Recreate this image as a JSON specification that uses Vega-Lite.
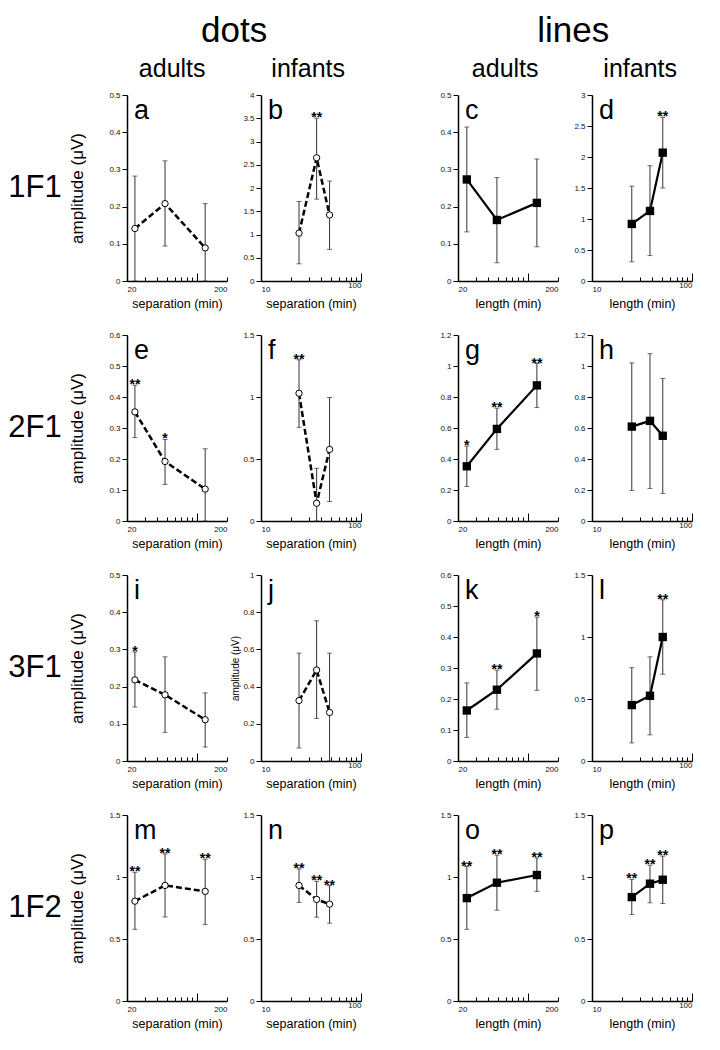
{
  "$schema": "https://vega.github.io/schema/vega-lite/v6.json",
  "background": "white",
  "padding": {"left": 5, "top": 14, "right": 5, "bottom": 5},
  "config": {
    "font": "Liberation Sans",
    "view": {"stroke": null},
    "axis": {"grid": false, "labelOverlap": false, "domainColor": "black", "domainWidth": 1.5, "tickColor": "black", "tickWidth": 1, "labelColor": "#111", "labelFontSize": 8, "labelFont": "Liberation Sans", "titleFont": "Liberation Sans", "titleColor": "black", "titleFontWeight": "normal", "titleFontSize": 12.5},
    "axisY": {"tickSize": 5, "labelPadding": 2, "titlePadding": 22, "titleFontSize": 17},
    "title": {"fontWeight": "normal", "color": "black"}
  },
  "datasets": {
    "rows": [{"row": "1F1"}, {"row": "2F1"}, {"row": "3F1"}, {"row": "1F2"}],
    "amp": [
      {"panel": "a", "x": 24, "amp": 0.141, "lo": 0, "hi": 0.282, "sig": ""},
      {"panel": "a", "x": 48, "amp": 0.208, "lo": 0.094, "hi": 0.323, "sig": ""},
      {"panel": "a", "x": 121, "amp": 0.089, "lo": 0, "hi": 0.208, "sig": ""},
      {"panel": "b", "x": 24, "amp": 1.03, "lo": 0.37, "hi": 1.71, "sig": ""},
      {"panel": "b", "x": 36, "amp": 2.65, "lo": 1.76, "hi": 3.5, "sig": "**"},
      {"panel": "b", "x": 48.5, "amp": 1.42, "lo": 0.68, "hi": 2.15, "sig": ""},
      {"panel": "c", "x": 24.5, "amp": 0.273, "lo": 0.132, "hi": 0.414, "sig": ""},
      {"panel": "c", "x": 49, "amp": 0.164, "lo": 0.049, "hi": 0.278, "sig": ""},
      {"panel": "c", "x": 123, "amp": 0.21, "lo": 0.092, "hi": 0.328, "sig": ""},
      {"panel": "d", "x": 25, "amp": 0.92, "lo": 0.31, "hi": 1.53, "sig": ""},
      {"panel": "d", "x": 38, "amp": 1.13, "lo": 0.41, "hi": 1.86, "sig": ""},
      {"panel": "d", "x": 51, "amp": 2.07, "lo": 1.5, "hi": 2.64, "sig": "**"},
      {"panel": "e", "x": 24, "amp": 0.352, "lo": 0.269, "hi": 0.438, "sig": "**"},
      {"panel": "e", "x": 48, "amp": 0.192, "lo": 0.118, "hi": 0.263, "sig": "*"},
      {"panel": "e", "x": 121, "amp": 0.103, "lo": 0, "hi": 0.233, "sig": ""},
      {"panel": "f", "x": 24, "amp": 1.03, "lo": 0.755, "hi": 1.3, "sig": "**"},
      {"panel": "f", "x": 36, "amp": 0.143, "lo": 0, "hi": 0.425, "sig": ""},
      {"panel": "f", "x": 48.5, "amp": 0.577, "lo": 0.157, "hi": 0.996, "sig": ""},
      {"panel": "g", "x": 24.5, "amp": 0.353, "lo": 0.223, "hi": 0.483, "sig": "*"},
      {"panel": "g", "x": 49, "amp": 0.594, "lo": 0.462, "hi": 0.728, "sig": "**"},
      {"panel": "g", "x": 123, "amp": 0.875, "lo": 0.732, "hi": 1.016, "sig": "**"},
      {"panel": "h", "x": 25, "amp": 0.609, "lo": 0.197, "hi": 1.02, "sig": ""},
      {"panel": "h", "x": 38, "amp": 0.646, "lo": 0.21, "hi": 1.08, "sig": ""},
      {"panel": "h", "x": 51, "amp": 0.55, "lo": 0.178, "hi": 0.92, "sig": ""},
      {"panel": "i", "x": 24, "amp": 0.218, "lo": 0.145, "hi": 0.293, "sig": "*"},
      {"panel": "i", "x": 48, "amp": 0.178, "lo": 0.077, "hi": 0.28, "sig": ""},
      {"panel": "i", "x": 121, "amp": 0.111, "lo": 0.0375, "hi": 0.183, "sig": ""},
      {"panel": "j", "x": 24, "amp": 0.325, "lo": 0.07, "hi": 0.58, "sig": ""},
      {"panel": "j", "x": 36, "amp": 0.489, "lo": 0.229, "hi": 0.754, "sig": ""},
      {"panel": "j", "x": 48.5, "amp": 0.261, "lo": 0, "hi": 0.58, "sig": ""},
      {"panel": "k", "x": 24.5, "amp": 0.163, "lo": 0.076, "hi": 0.252, "sig": ""},
      {"panel": "k", "x": 49, "amp": 0.23, "lo": 0.167, "hi": 0.293, "sig": "**"},
      {"panel": "k", "x": 123, "amp": 0.347, "lo": 0.228, "hi": 0.464, "sig": "*"},
      {"panel": "l", "x": 25, "amp": 0.451, "lo": 0.146, "hi": 0.753, "sig": ""},
      {"panel": "l", "x": 38, "amp": 0.526, "lo": 0.211, "hi": 0.84, "sig": ""},
      {"panel": "l", "x": 51, "amp": 1.0, "lo": 0.7, "hi": 1.3, "sig": "**"},
      {"panel": "m", "x": 24, "amp": 0.805, "lo": 0.578, "hi": 1.038, "sig": "**"},
      {"panel": "m", "x": 48, "amp": 0.932, "lo": 0.678, "hi": 1.186, "sig": "**"},
      {"panel": "m", "x": 121, "amp": 0.884, "lo": 0.616, "hi": 1.143, "sig": "**"},
      {"panel": "n", "x": 24, "amp": 0.932, "lo": 0.795, "hi": 1.065, "sig": "**"},
      {"panel": "n", "x": 36, "amp": 0.819, "lo": 0.676, "hi": 0.965, "sig": "**"},
      {"panel": "n", "x": 48.5, "amp": 0.781, "lo": 0.627, "hi": 0.93, "sig": "**"},
      {"panel": "o", "x": 24.5, "amp": 0.83, "lo": 0.578, "hi": 1.084, "sig": "**"},
      {"panel": "o", "x": 49, "amp": 0.954, "lo": 0.732, "hi": 1.176, "sig": "**"},
      {"panel": "o", "x": 123, "amp": 1.016, "lo": 0.884, "hi": 1.154, "sig": "**"},
      {"panel": "p", "x": 25, "amp": 0.838, "lo": 0.697, "hi": 0.981, "sig": "**"},
      {"panel": "p", "x": 38, "amp": 0.946, "lo": 0.792, "hi": 1.095, "sig": "**"},
      {"panel": "p", "x": 51, "amp": 0.978, "lo": 0.786, "hi": 1.168, "sig": "**"}
    ]
  },
  "spacing": 77,
  "hconcat": [
    {
      "spacing": 3,
      "hconcat": [
        {
          "title": {"text": ".", "fontSize": 35, "color": "transparent", "anchor": "middle", "offset": 8},
          "hconcat": [
            {
              "title": {"text": ".", "fontSize": 25, "color": "transparent", "anchor": "middle", "offset": 9},
              "spacing": 54,
              "bounds": "flush",
              "vconcat": [
                {"width": 60, "height": 186, "data": {"name": "rows"}, "transform": [{"filter": "datum.row == '1F1'"}], "mark": {"type": "text", "fontSize": 31, "color": "black"}, "encoding": {"text": {"field": "row"}}},
                {"width": 60, "height": 186, "data": {"name": "rows"}, "transform": [{"filter": "datum.row == '2F1'"}], "mark": {"type": "text", "fontSize": 31, "color": "black"}, "encoding": {"text": {"field": "row"}}},
                {"width": 60, "height": 186, "data": {"name": "rows"}, "transform": [{"filter": "datum.row == '3F1'"}], "mark": {"type": "text", "fontSize": 31, "color": "black"}, "encoding": {"text": {"field": "row"}}},
                {"width": 60, "height": 186, "data": {"name": "rows"}, "transform": [{"filter": "datum.row == '1F2'"}], "mark": {"type": "text", "fontSize": 31, "color": "black"}, "encoding": {"text": {"field": "row"}}}
              ]
            }
          ]
        },
        {
          "title": {"text": "dots", "fontSize": 35, "anchor": "middle", "dx": 19, "offset": 8},
          "spacing": 2,
          "hconcat": [
            {
              "title": {"text": "adults", "fontSize": 25, "anchor": "middle", "dx": 24, "offset": 9},
              "spacing": 54,
              "bounds": "flush",
              "vconcat": [
                {
                  "width": 100, "height": 186,
                  "title": {"text": "a", "anchor": "start", "frame": "group", "offset": -34, "dx": 7, "fontSize": 27},
                  "data": {"name": "amp"}, "transform": [{"filter": "datum.panel == 'a'"}],
                  "encoding": {"x": {"field": "x", "type": "quantitative", "title": "separation (min)", "scale": {"type": "log", "domain": [20, 200]}, "axis": {"values": [20, 30, 40, 50, 60, 70, 80, 90, 100, 200], "tickCount": 30, "format": "d", "labelExpr": "datum.value == 20 || datum.value == 200 ? datum.label : ''", "tickSize": {"condition": {"test": "datum.value == 100", "value": -8}, "value": -4}, "labelPadding": 8, "titlePadding": 4}}},
                  "layer": [
                    {"mark": {"type": "line", "color": "black", "strokeWidth": 2.5, "strokeDash": [6, 3]}, "encoding": {"y": {"field": "amp", "type": "quantitative", "title": "amplitude (μV)", "scale": {"domain": [0, 0.5], "nice": false}, "axis": {"values": [0, 0.1, 0.2, 0.3, 0.4, 0.5], "tickCount": 30, "format": "~g"}}}},
                    {"mark": {"type": "errorbar", "color": "#333", "ticks": {"size": 5}}, "encoding": {"y": {"field": "lo", "type": "quantitative", "title": "amplitude (μV)"}, "y2": {"field": "hi"}}},
                    {"mark": {"type": "point", "shape": "circle", "filled": true, "fill": "white", "stroke": "black", "strokeWidth": 1, "size": 40, "opacity": 1}, "encoding": {"y": {"field": "amp", "type": "quantitative", "title": "amplitude (μV)"}}},
                    {"mark": {"type": "text", "fontSize": 14, "fontWeight": "bold", "baseline": "alphabetic", "dy": 4, "color": "black"}, "encoding": {"y": {"field": "hi", "type": "quantitative", "title": "amplitude (μV)"}, "text": {"field": "sig"}}}
                  ]
                },
                {
                  "width": 100, "height": 186,
                  "title": {"text": "e", "anchor": "start", "frame": "group", "offset": -34, "dx": 7, "fontSize": 27},
                  "data": {"name": "amp"}, "transform": [{"filter": "datum.panel == 'e'"}],
                  "encoding": {"x": {"field": "x", "type": "quantitative", "title": "separation (min)", "scale": {"type": "log", "domain": [20, 200]}, "axis": {"values": [20, 30, 40, 50, 60, 70, 80, 90, 100, 200], "tickCount": 30, "format": "d", "labelExpr": "datum.value == 20 || datum.value == 200 ? datum.label : ''", "tickSize": {"condition": {"test": "datum.value == 100", "value": -8}, "value": -4}, "labelPadding": 8, "titlePadding": 4}}},
                  "layer": [
                    {"mark": {"type": "line", "color": "black", "strokeWidth": 2.5, "strokeDash": [6, 3]}, "encoding": {"y": {"field": "amp", "type": "quantitative", "title": "amplitude (μV)", "scale": {"domain": [0, 0.6], "nice": false}, "axis": {"values": [0, 0.1, 0.2, 0.3, 0.4, 0.5, 0.6], "tickCount": 30, "format": "~g"}}}},
                    {"mark": {"type": "errorbar", "color": "#333", "ticks": {"size": 5}}, "encoding": {"y": {"field": "lo", "type": "quantitative", "title": "amplitude (μV)"}, "y2": {"field": "hi"}}},
                    {"mark": {"type": "point", "shape": "circle", "filled": true, "fill": "white", "stroke": "black", "strokeWidth": 1, "size": 40, "opacity": 1}, "encoding": {"y": {"field": "amp", "type": "quantitative", "title": "amplitude (μV)"}}},
                    {"mark": {"type": "text", "fontSize": 14, "fontWeight": "bold", "baseline": "alphabetic", "dy": 4, "color": "black"}, "encoding": {"y": {"field": "hi", "type": "quantitative", "title": "amplitude (μV)"}, "text": {"field": "sig"}}}
                  ]
                },
                {
                  "width": 100, "height": 186,
                  "title": {"text": "i", "anchor": "start", "frame": "group", "offset": -34, "dx": 7, "fontSize": 27},
                  "data": {"name": "amp"}, "transform": [{"filter": "datum.panel == 'i'"}],
                  "encoding": {"x": {"field": "x", "type": "quantitative", "title": "separation (min)", "scale": {"type": "log", "domain": [20, 200]}, "axis": {"values": [20, 30, 40, 50, 60, 70, 80, 90, 100, 200], "tickCount": 30, "format": "d", "labelExpr": "datum.value == 20 || datum.value == 200 ? datum.label : ''", "tickSize": {"condition": {"test": "datum.value == 100", "value": -8}, "value": -4}, "labelPadding": 8, "titlePadding": 4}}},
                  "layer": [
                    {"mark": {"type": "line", "color": "black", "strokeWidth": 2.5, "strokeDash": [6, 3]}, "encoding": {"y": {"field": "amp", "type": "quantitative", "title": "amplitude (μV)", "scale": {"domain": [0, 0.5], "nice": false}, "axis": {"values": [0, 0.1, 0.2, 0.3, 0.4, 0.5], "tickCount": 30, "format": "~g"}}}},
                    {"mark": {"type": "errorbar", "color": "#333", "ticks": {"size": 5}}, "encoding": {"y": {"field": "lo", "type": "quantitative", "title": "amplitude (μV)"}, "y2": {"field": "hi"}}},
                    {"mark": {"type": "point", "shape": "circle", "filled": true, "fill": "white", "stroke": "black", "strokeWidth": 1, "size": 40, "opacity": 1}, "encoding": {"y": {"field": "amp", "type": "quantitative", "title": "amplitude (μV)"}}},
                    {"mark": {"type": "text", "fontSize": 14, "fontWeight": "bold", "baseline": "alphabetic", "dy": 4, "color": "black"}, "encoding": {"y": {"field": "hi", "type": "quantitative", "title": "amplitude (μV)"}, "text": {"field": "sig"}}}
                  ]
                },
                {
                  "width": 100, "height": 186,
                  "title": {"text": "m", "anchor": "start", "frame": "group", "offset": -34, "dx": 7, "fontSize": 27},
                  "data": {"name": "amp"}, "transform": [{"filter": "datum.panel == 'm'"}],
                  "encoding": {"x": {"field": "x", "type": "quantitative", "title": "separation (min)", "scale": {"type": "log", "domain": [20, 200]}, "axis": {"values": [20, 30, 40, 50, 60, 70, 80, 90, 100, 200], "tickCount": 30, "format": "d", "labelExpr": "datum.value == 20 || datum.value == 200 ? datum.label : ''", "tickSize": {"condition": {"test": "datum.value == 100", "value": -8}, "value": -4}, "labelPadding": 8, "titlePadding": 4}}},
                  "layer": [
                    {"mark": {"type": "line", "color": "black", "strokeWidth": 2.5, "strokeDash": [6, 3]}, "encoding": {"y": {"field": "amp", "type": "quantitative", "title": "amplitude (μV)", "scale": {"domain": [0, 1.5], "nice": false}, "axis": {"values": [0, 0.5, 1, 1.5], "tickCount": 30, "format": "~g"}}}},
                    {"mark": {"type": "errorbar", "color": "#333", "ticks": {"size": 5}}, "encoding": {"y": {"field": "lo", "type": "quantitative", "title": "amplitude (μV)"}, "y2": {"field": "hi"}}},
                    {"mark": {"type": "point", "shape": "circle", "filled": true, "fill": "white", "stroke": "black", "strokeWidth": 1, "size": 40, "opacity": 1}, "encoding": {"y": {"field": "amp", "type": "quantitative", "title": "amplitude (μV)"}}},
                    {"mark": {"type": "text", "fontSize": 14, "fontWeight": "bold", "baseline": "alphabetic", "dy": 4, "color": "black"}, "encoding": {"y": {"field": "hi", "type": "quantitative", "title": "amplitude (μV)"}, "text": {"field": "sig"}}}
                  ]
                }
              ]
            },
            {
              "title": {"text": "infants", "fontSize": 25, "anchor": "middle", "dx": 12, "offset": 9},
              "spacing": 54,
              "bounds": "flush",
              "vconcat": [
                {
                  "width": 100, "height": 186,
                  "title": {"text": "b", "anchor": "start", "frame": "group", "offset": -34, "dx": 7, "fontSize": 27},
                  "data": {"name": "amp"}, "transform": [{"filter": "datum.panel == 'b'"}],
                  "encoding": {"x": {"field": "x", "type": "quantitative", "title": "separation (min)", "scale": {"type": "log", "domain": [10, 100]}, "axis": {"values": [10, 20, 30, 40, 50, 60, 70, 80, 90, 100], "tickCount": 30, "format": "d", "labelExpr": "datum.value == 10 || datum.value == 100 ? datum.label : ''", "tickSize": {"condition": {"test": "datum.value == 100", "value": -8}, "value": -4}, "labelPadding": 8, "titlePadding": 4}}},
                  "layer": [
                    {"mark": {"type": "line", "color": "black", "strokeWidth": 2.5, "strokeDash": [6, 3]}, "encoding": {"y": {"field": "amp", "type": "quantitative", "title": null, "scale": {"domain": [0, 4], "nice": false}, "axis": {"values": [0, 0.5, 1, 1.5, 2, 2.5, 3, 3.5, 4], "tickCount": 30, "format": "~g"}}}},
                    {"mark": {"type": "errorbar", "color": "#333", "ticks": {"size": 5}}, "encoding": {"y": {"field": "lo", "type": "quantitative", "title": null}, "y2": {"field": "hi"}}},
                    {"mark": {"type": "point", "shape": "circle", "filled": true, "fill": "white", "stroke": "black", "strokeWidth": 1, "size": 40, "opacity": 1}, "encoding": {"y": {"field": "amp", "type": "quantitative", "title": null}}},
                    {"mark": {"type": "text", "fontSize": 14, "fontWeight": "bold", "baseline": "alphabetic", "dy": 4, "color": "black"}, "encoding": {"y": {"field": "hi", "type": "quantitative", "title": null}, "text": {"field": "sig"}}}
                  ]
                },
                {
                  "width": 100, "height": 186,
                  "title": {"text": "f", "anchor": "start", "frame": "group", "offset": -34, "dx": 7, "fontSize": 27},
                  "data": {"name": "amp"}, "transform": [{"filter": "datum.panel == 'f'"}],
                  "encoding": {"x": {"field": "x", "type": "quantitative", "title": "separation (min)", "scale": {"type": "log", "domain": [10, 100]}, "axis": {"values": [10, 20, 30, 40, 50, 60, 70, 80, 90, 100], "tickCount": 30, "format": "d", "labelExpr": "datum.value == 10 || datum.value == 100 ? datum.label : ''", "tickSize": {"condition": {"test": "datum.value == 100", "value": -8}, "value": -4}, "labelPadding": 8, "titlePadding": 4}}},
                  "layer": [
                    {"mark": {"type": "line", "color": "black", "strokeWidth": 2.5, "strokeDash": [6, 3]}, "encoding": {"y": {"field": "amp", "type": "quantitative", "title": null, "scale": {"domain": [0, 1.5], "nice": false}, "axis": {"values": [0, 0.5, 1, 1.5], "tickCount": 30, "format": "~g"}}}},
                    {"mark": {"type": "errorbar", "color": "#333", "ticks": {"size": 5}}, "encoding": {"y": {"field": "lo", "type": "quantitative", "title": null}, "y2": {"field": "hi"}}},
                    {"mark": {"type": "point", "shape": "circle", "filled": true, "fill": "white", "stroke": "black", "strokeWidth": 1, "size": 40, "opacity": 1}, "encoding": {"y": {"field": "amp", "type": "quantitative", "title": null}}},
                    {"mark": {"type": "text", "fontSize": 14, "fontWeight": "bold", "baseline": "alphabetic", "dy": 4, "color": "black"}, "encoding": {"y": {"field": "hi", "type": "quantitative", "title": null}, "text": {"field": "sig"}}}
                  ]
                },
                {
                  "width": 100, "height": 186,
                  "title": {"text": "j", "anchor": "start", "frame": "group", "offset": -34, "dx": 7, "fontSize": 27},
                  "data": {"name": "amp"}, "transform": [{"filter": "datum.panel == 'j'"}],
                  "encoding": {"x": {"field": "x", "type": "quantitative", "title": "separation (min)", "scale": {"type": "log", "domain": [10, 100]}, "axis": {"values": [10, 20, 30, 40, 50, 60, 70, 80, 90, 100], "tickCount": 30, "format": "d", "labelExpr": "datum.value == 10 || datum.value == 100 ? datum.label : ''", "tickSize": {"condition": {"test": "datum.value == 100", "value": -8}, "value": -4}, "labelPadding": 8, "titlePadding": 4}}},
                  "layer": [
                    {"mark": {"type": "line", "color": "black", "strokeWidth": 2.5, "strokeDash": [6, 3]}, "encoding": {"y": {"field": "amp", "type": "quantitative", "title": "amplitude (μV)", "scale": {"domain": [0, 1], "nice": false}, "axis": {"values": [0, 0.2, 0.4, 0.6, 0.8, 1], "tickCount": 30, "format": "~g", "titleFontSize": 10, "titlePadding": 2}}}},
                    {"mark": {"type": "errorbar", "color": "#333", "ticks": {"size": 5}}, "encoding": {"y": {"field": "lo", "type": "quantitative", "title": "amplitude (μV)"}, "y2": {"field": "hi"}}},
                    {"mark": {"type": "point", "shape": "circle", "filled": true, "fill": "white", "stroke": "black", "strokeWidth": 1, "size": 40, "opacity": 1}, "encoding": {"y": {"field": "amp", "type": "quantitative", "title": "amplitude (μV)"}}},
                    {"mark": {"type": "text", "fontSize": 14, "fontWeight": "bold", "baseline": "alphabetic", "dy": 4, "color": "black"}, "encoding": {"y": {"field": "hi", "type": "quantitative", "title": "amplitude (μV)"}, "text": {"field": "sig"}}}
                  ]
                },
                {
                  "width": 100, "height": 186,
                  "title": {"text": "n", "anchor": "start", "frame": "group", "offset": -34, "dx": 7, "fontSize": 27},
                  "data": {"name": "amp"}, "transform": [{"filter": "datum.panel == 'n'"}],
                  "encoding": {"x": {"field": "x", "type": "quantitative", "title": "separation (min)", "scale": {"type": "log", "domain": [10, 100]}, "axis": {"values": [10, 20, 30, 40, 50, 60, 70, 80, 90, 100], "tickCount": 30, "format": "d", "labelExpr": "datum.value == 10 || datum.value == 100 ? datum.label : ''", "tickSize": {"condition": {"test": "datum.value == 100", "value": -8}, "value": -4}, "labelPadding": 8, "titlePadding": 4}}},
                  "layer": [
                    {"mark": {"type": "line", "color": "black", "strokeWidth": 2.5, "strokeDash": [6, 3]}, "encoding": {"y": {"field": "amp", "type": "quantitative", "title": null, "scale": {"domain": [0, 1.5], "nice": false}, "axis": {"values": [0, 0.5, 1, 1.5], "tickCount": 30, "format": "~g"}}}},
                    {"mark": {"type": "errorbar", "color": "#333", "ticks": {"size": 5}}, "encoding": {"y": {"field": "lo", "type": "quantitative", "title": null}, "y2": {"field": "hi"}}},
                    {"mark": {"type": "point", "shape": "circle", "filled": true, "fill": "white", "stroke": "black", "strokeWidth": 1, "size": 40, "opacity": 1}, "encoding": {"y": {"field": "amp", "type": "quantitative", "title": null}}},
                    {"mark": {"type": "text", "fontSize": 14, "fontWeight": "bold", "baseline": "alphabetic", "dy": 4, "color": "black"}, "encoding": {"y": {"field": "hi", "type": "quantitative", "title": null}, "text": {"field": "sig"}}}
                  ]
                }
              ]
            }
          ]
        }
      ]
    },
    {
      "title": {"text": "lines", "fontSize": 35, "anchor": "middle", "dx": 7, "offset": 8},
      "spacing": 14,
      "hconcat": [
        {
          "title": {"text": "adults", "fontSize": 25, "anchor": "middle", "dx": 6, "offset": 9},
          "spacing": 54,
          "bounds": "flush",
          "vconcat": [
            {
              "width": 100, "height": 186,
              "title": {"text": "c", "anchor": "start", "frame": "group", "offset": -34, "dx": 7, "fontSize": 27},
              "data": {"name": "amp"}, "transform": [{"filter": "datum.panel == 'c'"}],
              "encoding": {"x": {"field": "x", "type": "quantitative", "title": "length (min)", "scale": {"type": "log", "domain": [20, 200]}, "axis": {"values": [20, 30, 40, 50, 60, 70, 80, 90, 100, 200], "tickCount": 30, "format": "d", "labelExpr": "datum.value == 20 || datum.value == 200 ? datum.label : ''", "tickSize": {"condition": {"test": "datum.value == 100", "value": -8}, "value": -4}, "labelPadding": 8, "titlePadding": 4}}},
              "layer": [
                {"mark": {"type": "line", "color": "black", "strokeWidth": 2.2}, "encoding": {"y": {"field": "amp", "type": "quantitative", "title": null, "scale": {"domain": [0, 0.5], "nice": false}, "axis": {"values": [0, 0.1, 0.2, 0.3, 0.4, 0.5], "tickCount": 30, "format": "~g"}}}},
                {"mark": {"type": "errorbar", "color": "#333", "ticks": {"size": 5}}, "encoding": {"y": {"field": "lo", "type": "quantitative", "title": null}, "y2": {"field": "hi"}}},
                {"mark": {"type": "point", "shape": "square", "filled": true, "color": "black", "size": 70, "opacity": 1}, "encoding": {"y": {"field": "amp", "type": "quantitative", "title": null}}},
                {"mark": {"type": "text", "fontSize": 14, "fontWeight": "bold", "baseline": "alphabetic", "dy": 4, "color": "black"}, "encoding": {"y": {"field": "hi", "type": "quantitative", "title": null}, "text": {"field": "sig"}}}
              ]
            },
            {
              "width": 100, "height": 186,
              "title": {"text": "g", "anchor": "start", "frame": "group", "offset": -34, "dx": 7, "fontSize": 27},
              "data": {"name": "amp"}, "transform": [{"filter": "datum.panel == 'g'"}],
              "encoding": {"x": {"field": "x", "type": "quantitative", "title": "length (min)", "scale": {"type": "log", "domain": [20, 200]}, "axis": {"values": [20, 30, 40, 50, 60, 70, 80, 90, 100, 200], "tickCount": 30, "format": "d", "labelExpr": "datum.value == 20 || datum.value == 200 ? datum.label : ''", "tickSize": {"condition": {"test": "datum.value == 100", "value": -8}, "value": -4}, "labelPadding": 8, "titlePadding": 4}}},
              "layer": [
                {"mark": {"type": "line", "color": "black", "strokeWidth": 2.2}, "encoding": {"y": {"field": "amp", "type": "quantitative", "title": null, "scale": {"domain": [0, 1.2], "nice": false}, "axis": {"values": [0, 0.2, 0.4, 0.6, 0.8, 1, 1.2], "tickCount": 30, "format": "~g"}}}},
                {"mark": {"type": "errorbar", "color": "#333", "ticks": {"size": 5}}, "encoding": {"y": {"field": "lo", "type": "quantitative", "title": null}, "y2": {"field": "hi"}}},
                {"mark": {"type": "point", "shape": "square", "filled": true, "color": "black", "size": 70, "opacity": 1}, "encoding": {"y": {"field": "amp", "type": "quantitative", "title": null}}},
                {"mark": {"type": "text", "fontSize": 14, "fontWeight": "bold", "baseline": "alphabetic", "dy": 4, "color": "black"}, "encoding": {"y": {"field": "hi", "type": "quantitative", "title": null}, "text": {"field": "sig"}}}
              ]
            },
            {
              "width": 100, "height": 186,
              "title": {"text": "k", "anchor": "start", "frame": "group", "offset": -34, "dx": 7, "fontSize": 27},
              "data": {"name": "amp"}, "transform": [{"filter": "datum.panel == 'k'"}],
              "encoding": {"x": {"field": "x", "type": "quantitative", "title": "length (min)", "scale": {"type": "log", "domain": [20, 200]}, "axis": {"values": [20, 30, 40, 50, 60, 70, 80, 90, 100, 200], "tickCount": 30, "format": "d", "labelExpr": "datum.value == 20 || datum.value == 200 ? datum.label : ''", "tickSize": {"condition": {"test": "datum.value == 100", "value": -8}, "value": -4}, "labelPadding": 8, "titlePadding": 4}}},
              "layer": [
                {"mark": {"type": "line", "color": "black", "strokeWidth": 2.2}, "encoding": {"y": {"field": "amp", "type": "quantitative", "title": null, "scale": {"domain": [0, 0.6], "nice": false}, "axis": {"values": [0, 0.1, 0.2, 0.3, 0.4, 0.5, 0.6], "tickCount": 30, "format": "~g"}}}},
                {"mark": {"type": "errorbar", "color": "#333", "ticks": {"size": 5}}, "encoding": {"y": {"field": "lo", "type": "quantitative", "title": null}, "y2": {"field": "hi"}}},
                {"mark": {"type": "point", "shape": "square", "filled": true, "color": "black", "size": 70, "opacity": 1}, "encoding": {"y": {"field": "amp", "type": "quantitative", "title": null}}},
                {"mark": {"type": "text", "fontSize": 14, "fontWeight": "bold", "baseline": "alphabetic", "dy": 4, "color": "black"}, "encoding": {"y": {"field": "hi", "type": "quantitative", "title": null}, "text": {"field": "sig"}}}
              ]
            },
            {
              "width": 100, "height": 186,
              "title": {"text": "o", "anchor": "start", "frame": "group", "offset": -34, "dx": 7, "fontSize": 27},
              "data": {"name": "amp"}, "transform": [{"filter": "datum.panel == 'o'"}],
              "encoding": {"x": {"field": "x", "type": "quantitative", "title": "length (min)", "scale": {"type": "log", "domain": [20, 200]}, "axis": {"values": [20, 30, 40, 50, 60, 70, 80, 90, 100, 200], "tickCount": 30, "format": "d", "labelExpr": "datum.value == 20 || datum.value == 200 ? datum.label : ''", "tickSize": {"condition": {"test": "datum.value == 100", "value": -8}, "value": -4}, "labelPadding": 8, "titlePadding": 4}}},
              "layer": [
                {"mark": {"type": "line", "color": "black", "strokeWidth": 2.2}, "encoding": {"y": {"field": "amp", "type": "quantitative", "title": null, "scale": {"domain": [0, 1.5], "nice": false}, "axis": {"values": [0, 0.5, 1, 1.5], "tickCount": 30, "format": "~g"}}}},
                {"mark": {"type": "errorbar", "color": "#333", "ticks": {"size": 5}}, "encoding": {"y": {"field": "lo", "type": "quantitative", "title": null}, "y2": {"field": "hi"}}},
                {"mark": {"type": "point", "shape": "square", "filled": true, "color": "black", "size": 70, "opacity": 1}, "encoding": {"y": {"field": "amp", "type": "quantitative", "title": null}}},
                {"mark": {"type": "text", "fontSize": 14, "fontWeight": "bold", "baseline": "alphabetic", "dy": 4, "color": "black"}, "encoding": {"y": {"field": "hi", "type": "quantitative", "title": null}, "text": {"field": "sig"}}}
              ]
            }
          ]
        },
        {
          "title": {"text": "infants", "fontSize": 25, "anchor": "middle", "dx": 7, "offset": 9},
          "spacing": 54,
          "bounds": "flush",
          "vconcat": [
            {
              "width": 100, "height": 186,
              "title": {"text": "d", "anchor": "start", "frame": "group", "offset": -34, "dx": 7, "fontSize": 27},
              "data": {"name": "amp"}, "transform": [{"filter": "datum.panel == 'd'"}],
              "encoding": {"x": {"field": "x", "type": "quantitative", "title": "length (min)", "scale": {"type": "log", "domain": [10, 100]}, "axis": {"values": [10, 20, 30, 40, 50, 60, 70, 80, 90, 100], "tickCount": 30, "format": "d", "labelExpr": "datum.value == 10 || datum.value == 100 ? datum.label : ''", "tickSize": {"condition": {"test": "datum.value == 100", "value": -8}, "value": -4}, "labelPadding": 8, "titlePadding": 4}}},
              "layer": [
                {"mark": {"type": "line", "color": "black", "strokeWidth": 2.2}, "encoding": {"y": {"field": "amp", "type": "quantitative", "title": null, "scale": {"domain": [0, 3], "nice": false}, "axis": {"values": [0, 0.5, 1, 1.5, 2, 2.5, 3], "tickCount": 30, "format": "~g"}}}},
                {"mark": {"type": "errorbar", "color": "#333", "ticks": {"size": 5}}, "encoding": {"y": {"field": "lo", "type": "quantitative", "title": null}, "y2": {"field": "hi"}}},
                {"mark": {"type": "point", "shape": "square", "filled": true, "color": "black", "size": 70, "opacity": 1}, "encoding": {"y": {"field": "amp", "type": "quantitative", "title": null}}},
                {"mark": {"type": "text", "fontSize": 14, "fontWeight": "bold", "baseline": "alphabetic", "dy": 4, "color": "black"}, "encoding": {"y": {"field": "hi", "type": "quantitative", "title": null}, "text": {"field": "sig"}}}
              ]
            },
            {
              "width": 100, "height": 186,
              "title": {"text": "h", "anchor": "start", "frame": "group", "offset": -34, "dx": 7, "fontSize": 27},
              "data": {"name": "amp"}, "transform": [{"filter": "datum.panel == 'h'"}],
              "encoding": {"x": {"field": "x", "type": "quantitative", "title": "length (min)", "scale": {"type": "log", "domain": [10, 100]}, "axis": {"values": [10, 20, 30, 40, 50, 60, 70, 80, 90, 100], "tickCount": 30, "format": "d", "labelExpr": "datum.value == 10 || datum.value == 100 ? datum.label : ''", "tickSize": {"condition": {"test": "datum.value == 100", "value": -8}, "value": -4}, "labelPadding": 8, "titlePadding": 4}}},
              "layer": [
                {"mark": {"type": "line", "color": "black", "strokeWidth": 2.2}, "encoding": {"y": {"field": "amp", "type": "quantitative", "title": null, "scale": {"domain": [0, 1.2], "nice": false}, "axis": {"values": [0, 0.2, 0.4, 0.6, 0.8, 1, 1.2], "tickCount": 30, "format": "~g"}}}},
                {"mark": {"type": "errorbar", "color": "#333", "ticks": {"size": 5}}, "encoding": {"y": {"field": "lo", "type": "quantitative", "title": null}, "y2": {"field": "hi"}}},
                {"mark": {"type": "point", "shape": "square", "filled": true, "color": "black", "size": 70, "opacity": 1}, "encoding": {"y": {"field": "amp", "type": "quantitative", "title": null}}},
                {"mark": {"type": "text", "fontSize": 14, "fontWeight": "bold", "baseline": "alphabetic", "dy": 4, "color": "black"}, "encoding": {"y": {"field": "hi", "type": "quantitative", "title": null}, "text": {"field": "sig"}}}
              ]
            },
            {
              "width": 100, "height": 186,
              "title": {"text": "l", "anchor": "start", "frame": "group", "offset": -34, "dx": 7, "fontSize": 27},
              "data": {"name": "amp"}, "transform": [{"filter": "datum.panel == 'l'"}],
              "encoding": {"x": {"field": "x", "type": "quantitative", "title": "length (min)", "scale": {"type": "log", "domain": [10, 100]}, "axis": {"values": [10, 20, 30, 40, 50, 60, 70, 80, 90, 100], "tickCount": 30, "format": "d", "labelExpr": "datum.value == 10 || datum.value == 100 ? datum.label : ''", "tickSize": {"condition": {"test": "datum.value == 100", "value": -8}, "value": -4}, "labelPadding": 8, "titlePadding": 4}}},
              "layer": [
                {"mark": {"type": "line", "color": "black", "strokeWidth": 2.2}, "encoding": {"y": {"field": "amp", "type": "quantitative", "title": null, "scale": {"domain": [0, 1.5], "nice": false}, "axis": {"values": [0, 0.5, 1, 1.5], "tickCount": 30, "format": "~g"}}}},
                {"mark": {"type": "errorbar", "color": "#333", "ticks": {"size": 5}}, "encoding": {"y": {"field": "lo", "type": "quantitative", "title": null}, "y2": {"field": "hi"}}},
                {"mark": {"type": "point", "shape": "square", "filled": true, "color": "black", "size": 70, "opacity": 1}, "encoding": {"y": {"field": "amp", "type": "quantitative", "title": null}}},
                {"mark": {"type": "text", "fontSize": 14, "fontWeight": "bold", "baseline": "alphabetic", "dy": 4, "color": "black"}, "encoding": {"y": {"field": "hi", "type": "quantitative", "title": null}, "text": {"field": "sig"}}}
              ]
            },
            {
              "width": 100, "height": 186,
              "title": {"text": "p", "anchor": "start", "frame": "group", "offset": -34, "dx": 7, "fontSize": 27},
              "data": {"name": "amp"}, "transform": [{"filter": "datum.panel == 'p'"}],
              "encoding": {"x": {"field": "x", "type": "quantitative", "title": "length (min)", "scale": {"type": "log", "domain": [10, 100]}, "axis": {"values": [10, 20, 30, 40, 50, 60, 70, 80, 90, 100], "tickCount": 30, "format": "d", "labelExpr": "datum.value == 10 || datum.value == 100 ? datum.label : ''", "tickSize": {"condition": {"test": "datum.value == 100", "value": -8}, "value": -4}, "labelPadding": 8, "titlePadding": 4}}},
              "layer": [
                {"mark": {"type": "line", "color": "black", "strokeWidth": 2.2}, "encoding": {"y": {"field": "amp", "type": "quantitative", "title": null, "scale": {"domain": [0, 1.5], "nice": false}, "axis": {"values": [0, 0.5, 1, 1.5], "tickCount": 30, "format": "~g"}}}},
                {"mark": {"type": "errorbar", "color": "#333", "ticks": {"size": 5}}, "encoding": {"y": {"field": "lo", "type": "quantitative", "title": null}, "y2": {"field": "hi"}}},
                {"mark": {"type": "point", "shape": "square", "filled": true, "color": "black", "size": 70, "opacity": 1}, "encoding": {"y": {"field": "amp", "type": "quantitative", "title": null}}},
                {"mark": {"type": "text", "fontSize": 14, "fontWeight": "bold", "baseline": "alphabetic", "dy": 4, "color": "black"}, "encoding": {"y": {"field": "hi", "type": "quantitative", "title": null}, "text": {"field": "sig"}}}
              ]
            }
          ]
        }
      ]
    }
  ]
}
